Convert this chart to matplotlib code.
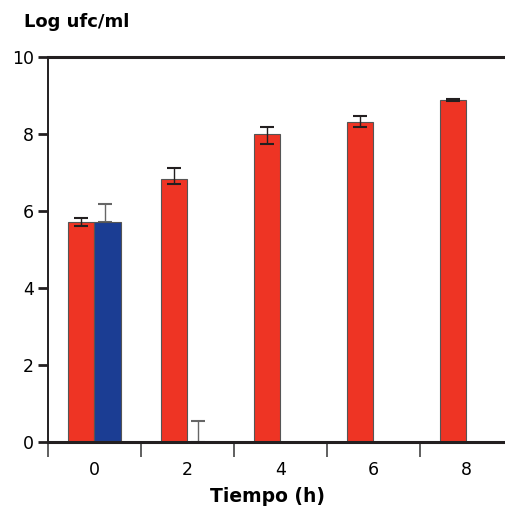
import matplotlib
matplotlib.use("Agg")
import matplotlib.pyplot as plt
import numpy as np

# Datos
tiempos = ["0", "2", "4", "6", "8"]
rojo = [5.72, 6.84, 7.99, 8.32, 8.88]
rojo_err_bajo = [0.10, 0.15, 0.25, 0.14, 0.03]
rojo_err_alto = [0.10, 0.27, 0.20, 0.16, 0.03]
azul = [5.72, 0.0, 0.0, 0.0, 0.0]
azul_err_alto = [0.47, 0.55, 0.0, 0.0, 0.0]

RED = "#EE3424"
BLUE = "#1B3D93"
DARK = "#231F20"

fig = plt.figure(figsize=(5.06, 5.09), dpi=100)
ax = fig.add_axes([48 / 506, 67 / 509, 458 / 506, 385 / 509])

x = np.arange(len(tiempos))
w = 0.29

ax.bar(x - w / 2, rojo, width=w, color=RED, edgecolor="#555555", linewidth=0.8, zorder=2)
ax.bar(x + w / 2, azul, width=w, color=BLUE, edgecolor="#555555", linewidth=0.8, zorder=2)

ax.errorbar(x - w / 2, rojo, yerr=[rojo_err_bajo, rojo_err_alto], fmt="none",
            ecolor=DARK, elinewidth=1.0, capsize=5, capthick=1.5, zorder=3)
mask = np.array(azul_err_alto) > 0
ax.errorbar((x + w / 2)[mask] - 0.03, np.array(azul)[mask],
            yerr=[np.zeros(mask.sum()), np.array(azul_err_alto)[mask]], fmt="none",
            ecolor="#666666", elinewidth=1.0, capsize=5, capthick=1.5, zorder=1)

ax.set_xlim(-0.5, 4.425)
ax.set_ylim(0, 10)

ax.set_yticks(np.arange(0, 11, 2))
ax.tick_params(axis="y", direction="out", length=7, width=2, color=DARK, labelsize=12.5, pad=3)

ax.set_xticks(x)
ax.set_xticklabels(tiempos)
ax.set_xticks(np.arange(-0.5, 4.5, 1), minor=True)
ax.tick_params(axis="x", which="major", length=0, labelsize=12.5, pad=14)
ax.tick_params(axis="x", which="minor", direction="out", length=11, width=1.2, color="#444444")

ax.spines["right"].set_visible(False)
ax.spines["top"].set_linewidth(2.2)
ax.spines["bottom"].set_linewidth(2.2)
ax.spines["left"].set_linewidth(1.4)
for s in ["top", "bottom", "left"]:
    ax.spines[s].set_color(DARK)

fig.text(24 / 506, 1 - 22 / 509, "Log ufc/ml", fontsize=13, fontweight="bold",
         ha="left", va="center")
fig.text(268 / 506, 1 - 496 / 509, "Tiempo (h)", fontsize=13.5, fontweight="bold",
         ha="center", va="center")

plt.savefig("out.png", dpi=100)
plt.close()
